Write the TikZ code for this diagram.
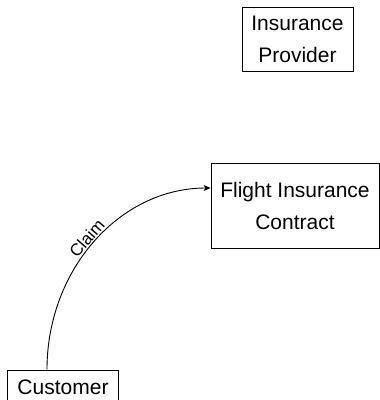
\documentclass[tikz,border=0pt]{standalone}
\usepackage{fontspec}
\setmainfont{Liberation Sans}
\usetikzlibrary{arrows.meta}
\begin{document}
\begin{tikzpicture}[x=1pt,y=-1pt,
  box/.style={draw, line width=0.9pt, align=center, inner sep=0pt,
    font=\fontsize{21}{32}\selectfont},
  conn/.style={line width=0.9pt, -{Stealth[length=7pt,width=6pt,inset=2pt]}},
  lbl/.style={font=\fontsize{17}{19}\selectfont, sloped, above, inner sep=1.5pt}]
\useasboundingbox (0,0) rectangle (380,400);
\node[box, minimum width=111pt, minimum height=64pt] (prov) at (297.5,39) {Insurance\\Provider};
\node[box, minimum width=168pt, minimum height=85pt] (contract) at (295,205.5) {Flight Insurance\\Contract};
\node[box, minimum width=111pt, minimum height=34pt] (cust) at (63,387) {Customer};
\draw[conn] ([xshift=-16pt]cust.north) .. controls +(0,-100) and +(-91,0) .. ([yshift=17.5pt]contract.west)
  node[lbl, pos=0.49] {Claim};
\end{tikzpicture}
\end{document}
